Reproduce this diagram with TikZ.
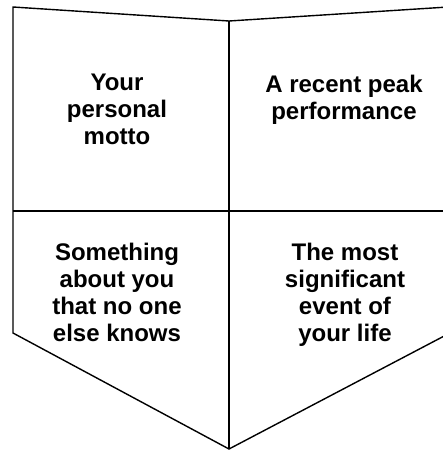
\documentclass[tikz,border=0pt]{standalone}
\usepackage{fontspec}
\setmainfont{Liberation Sans}
\begin{document}
\begin{tikzpicture}[x=1pt,y=-1pt,
  outline/.style={draw=black,line width=1.4pt,line join=miter},
  divider/.style={draw=black,line width=1.4pt},
  celltext/.style={align=center,anchor=north,inner sep=0pt,
    font=\fontsize{24pt}{27pt}\selectfont\bfseries}]
\useasboundingbox (0,0) rectangle (443,451);
\fill[white] (0,0) rectangle (443,451);
% corners
\coordinate (tl) at (13,7);
\coordinate (tm) at (229,21);
\coordinate (tr) at (448,7);
\coordinate (br) at (448,334);
\coordinate (ap) at (229,449);
\coordinate (bl) at (13,333);
\coordinate (ml) at (13,211);
\coordinate (mr) at (448,211);
% outline
\draw[outline] (tl) -- (tm) -- (tr) -- (br) -- (ap) -- (bl) -- cycle;
\draw[divider] (tm) -- (ap);
\draw[divider] (ml) -- (mr);
% texts
\node[celltext] (motto) at (117,74) {Your\\personal\\motto};
\node[celltext] (peak) at (344,75) {A recent peak\\performance};
\node[celltext] (secret) at (117,243) {Something\\about you\\that no one\\else knows};
\node[celltext] (event) at (345,243) {The most\\significant\\event of\\your life};
\end{tikzpicture}
\end{document}
